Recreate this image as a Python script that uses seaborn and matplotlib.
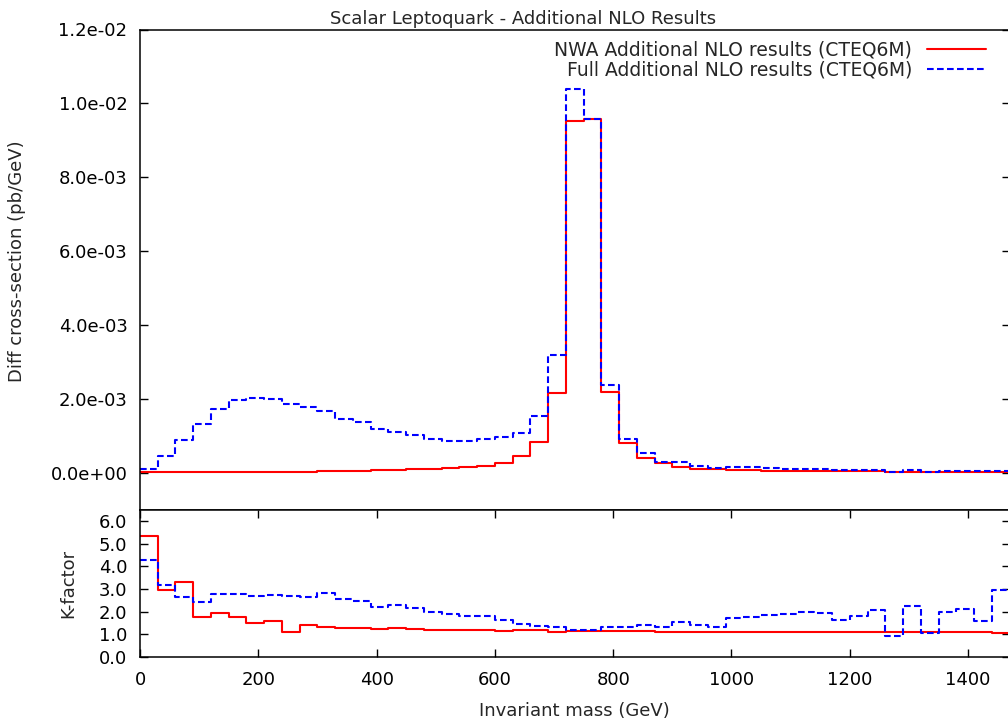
import numpy as np
import pandas as pd
import matplotlib
matplotlib.use("Agg")
import matplotlib.pyplot as plt
import seaborn as sns

# ---------------- data ----------------
bin_width = 30                               # GeV
mass_range = (0, 1470)                       # GeV, 49 bins
bin_centers = np.arange(mass_range[0] + bin_width / 2, mass_range[1], bin_width)

nwa_xsec = [1.0e-5, 1.0e-5, 1.5e-5, 1.5e-5, 1.5e-5, 2.0e-5, 2.0e-5, 2.0e-5, 2.0e-5, 2.5e-5,
            3.0e-5, 3.5e-5, 4.0e-5, 5.9e-5, 5.9e-5, 8.6e-5, 1.04e-4, 1.22e-4, 1.5e-4, 1.85e-4,
            2.6e-4, 4.4e-4, 8.3e-4, 2.16e-3, 9.52e-3, 9.57e-3, 2.17e-3, 8.0e-4, 4.0e-4, 2.5e-4,
            1.5e-4, 1.05e-4, 8.5e-5, 7.5e-5, 6.5e-5, 5.5e-5, 5.0e-5, 4.5e-5, 4.0e-5, 3.5e-5,
            3.2e-5, 3.0e-5, 2.8e-5, 2.6e-5, 2.4e-5, 2.2e-5, 2.0e-5, 1.9e-5, 1.8e-5]

full_xsec = [1.0e-4, 4.5e-4, 8.7e-4, 1.32e-3, 1.73e-3, 1.96e-3, 2.01e-3, 2.0e-3, 1.87e-3, 1.78e-3,
             1.67e-3, 1.45e-3, 1.36e-3, 1.17e-3, 1.11e-3, 1.02e-3, 9.1e-4, 8.6e-4, 8.6e-4, 9.1e-4,
             9.6e-4, 1.07e-3, 1.53e-3, 3.18e-3, 1.04e-2, 9.57e-3, 2.38e-3, 9.2e-4, 5.4e-4, 2.9e-4,
             2.8e-4, 1.8e-4, 1.3e-4, 1.45e-4, 1.4e-4, 1.35e-4, 1.1e-4, 1.0e-4, 8.5e-5, 6.5e-5,
             6.5e-5, 7.0e-5, 2.5e-5, 6.0e-5, 2.8e-5, 4.5e-5, 4.5e-5, 3.0e-5, 5.5e-5]

nwa_kfactor = [5.35, 2.94, 3.32, 1.78, 1.93, 1.78, 1.49, 1.59, 1.12, 1.41,
               1.32, 1.27, 1.29, 1.22, 1.27, 1.24, 1.19, 1.19, 1.19, 1.17,
               1.15, 1.17, 1.17, 1.12, 1.14, 1.13, 1.14, 1.13, 1.13, 1.12,
               1.12, 1.12, 1.11, 1.10, 1.10, 1.11, 1.10, 1.11, 1.10, 1.09,
               1.09, 1.08, 1.08, 1.09, 1.09, 1.09, 1.08, 1.08, 1.07]

full_kfactor = [4.27, 3.19, 2.63, 2.41, 2.79, 2.76, 2.70, 2.72, 2.68, 2.66,
                2.82, 2.56, 2.47, 2.22, 2.31, 2.15, 1.97, 1.88, 1.81, 1.80,
                1.65, 1.47, 1.35, 1.34, 1.18, 1.18, 1.31, 1.31, 1.41, 1.31,
                1.56, 1.41, 1.34, 1.73, 1.78, 1.84, 1.91, 1.97, 1.95, 1.63,
                1.82, 2.09, 0.93, 2.25, 1.05, 2.00, 2.10, 1.59, 2.96]

labels = ["NWA Additional NLO results (CTEQ6M)", "Full Additional NLO results (CTEQ6M)"]
title = "Scalar Leptoquark - Additional NLO Results"

# ---------------- style ----------------
FS = 13
sns.set_theme(style="ticks")
plt.rcParams["font.family"] = ["DejaVu Sans"]
plt.rcParams["font.size"] = FS
plt.rcParams["axes.linewidth"] = 1.1
plt.rcParams["axes.edgecolor"] = "black"

W, H = 1008, 726
fig = plt.figure(figsize=(W / 100, H / 100), dpi=100)
L = 140 / W
AW = 869.5 / W
ax_top = fig.add_axes([L, 1 - 509.5 / H, AW, 480 / H])
ax_bot = fig.add_axes([L, 1 - 657 / H, AW, 147.5 / H])

red = "#ff0000"
blue = "#0000ff"
dash = (3.2, 1.6)

df = pd.DataFrame({"mass": bin_centers, "nwa": nwa_xsec, "full": full_xsec,
                   "knwa": nwa_kfactor, "kfull": full_kfactor})

common = dict(data=df, x="mass", binwidth=bin_width, binrange=mass_range,
              element="step", fill=False, linewidth=1.5)

sns.histplot(weights="nwa", color=red, ax=ax_top, label=labels[0], **common)
sns.histplot(weights="full", color=blue, linestyle="--", dashes=dash, ax=ax_top,
             label=labels[1], **common)
sns.histplot(weights="knwa", color=red, ax=ax_bot, **common)
sns.histplot(weights="kfull", color=blue, linestyle="--", dashes=dash, ax=ax_bot, **common)

# ---------------- axes ----------------
for ax in (ax_top, ax_bot):
    ax.set_xlim(*mass_range)
    for s in ax.spines.values():
        s.set_visible(True)
        s.set_color("black")
        s.set_linewidth(1.1)

ax_top.set_ylim(-0.001, 0.012)
ax_top.set_yticks(np.arange(0, 0.0121, 0.002))
ax_top.yaxis.set_major_formatter(matplotlib.ticker.FormatStrFormatter("%.1e"))
ax_top.tick_params(axis="y", which="both", direction="in", length=5.8, width=1.0,
                   left=True, right=True, labelsize=FS, pad=9, colors="black")
ax_top.tick_params(axis="x", which="both", bottom=False, top=False, labelbottom=False)
ax_top.set_xlabel("")
ax_top.set_ylabel("Diff cross-section (pb/GeV)", fontsize=FS)
ax_top.yaxis.set_label_coords(-114 / 869.5, 0.518)
ax_top.set_title(title, fontsize=FS, pad=3.7, x=0.44)

ax_bot.set_ylim(0, 6.5)
ax_bot.set_yticks(np.arange(0, 6.1, 1.0))
ax_bot.yaxis.set_major_formatter(matplotlib.ticker.FormatStrFormatter("%.1f"))
ax_bot.set_xticks(np.arange(0, 1401, 200))
ax_bot.tick_params(axis="both", which="both", direction="in", length=5.8, width=1.0,
                   left=True, right=True, top=True, bottom=True, labelsize=FS, colors="black")
ax_bot.tick_params(axis="y", pad=9)
ax_bot.tick_params(axis="x", pad=10)
ax_bot.set_ylabel("K-factor", fontsize=FS)
ax_bot.yaxis.set_label_coords(-63 / 869.5, 0.5)
ax_bot.set_xlabel("Invariant mass (GeV)", fontsize=FS, labelpad=9.5)

LFS = 13.5
handles = ax_top.lines[:2]
leg = ax_top.legend(handles=handles, labels=labels, loc="upper right",
                    bbox_to_anchor=(986 / W, 1 - 41 / H), bbox_transform=fig.transFigure,
                    frameon=False, markerfirst=False, fontsize=LFS, borderpad=0,
                    borderaxespad=0, handlelength=3.15, handletextpad=0.8, labelspacing=0.04)

fig.savefig("out.png", dpi=100)
